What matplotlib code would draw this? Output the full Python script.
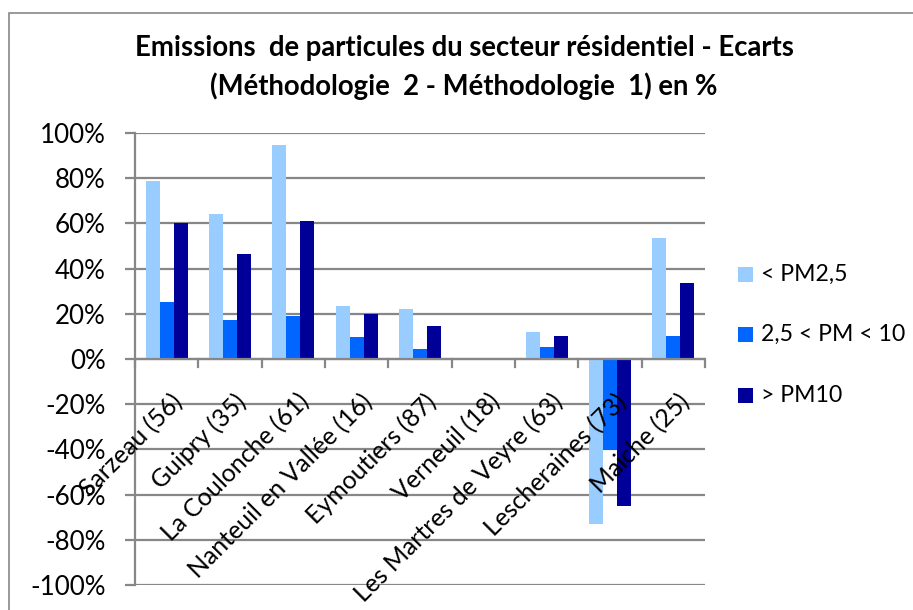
import matplotlib
matplotlib.use("Agg")
import matplotlib.pyplot as plt
from matplotlib.patches import Rectangle
import numpy as np

plt.rcParams['font.family'] = ['Lato', 'DejaVu Sans']

categories = ["Sarzeau (56)", "Guipry (35)", "La Coulonche (61)", "Nanteuil en Vallée (16)",
              "Eymoutiers (87)", "Verneuil (18)", "Les Martres de Veyre (63)",
              "Lescheraines (73)", "Maiche (25)"]
series_names = ["< PM2,5", "2,5 < PM < 10", "> PM10"]
pm25 = [78.8, 64.2, 94.6, 23.5, 22.1, 0.0, 12.1, -72.9, 53.4]
pm25_10 = [25.4, 17.1, 19.0, 9.6, 4.4, 0.0, 5.2, -40.4, 10.2]
pm10 = [60.3, 46.3, 60.9, 19.8, 14.6, 0.0, 10.2, -65.0, 33.6]
colors = ["#99CCFF", "#0066FF", "#000099"]
yticks = [-100, -80, -60, -40, -20, 0, 20, 40, 60, 80, 100]
title_lines = ["Emissions  de particules du secteur résidentiel - Ecarts",
               "(Méthodologie  2 - Méthodologie  1) en %"]

W, H = 913, 610
fig = plt.figure(figsize=(W / 100, H / 100), dpi=100)
fig.patch.set_facecolor("white")
renderer = fig.canvas.get_renderer()


def fit(text, target_px, weight="normal", base=20.0):
    t = fig.text(0, 0, text, fontsize=base, fontweight=weight)
    w = t.get_window_extent(renderer).width
    t.remove()
    return base * target_px / w


fs_tick = fit("100%", 66)
fs_cat = fit("Lescheraines (73)", 190)
fs_leg = fit("2,5 < PM < 10", 144)
fs_title = fit(title_lines[0], 662, "bold")

grid_c = "#878787"
# chart border
fig.add_artist(Rectangle((9 / W, -0.1), 1.2, 1 - 13 / H + 0.1, transform=fig.transFigure,
                         fill=False, edgecolor=grid_c, linewidth=1.2))

ax = fig.add_axes([135 / W, 1 - 585 / H, (705 - 135) / W, (585 - 133) / H])
x = np.arange(len(categories))
bw = 0.222
for k, (vals, c, name) in enumerate(zip([pm25, pm25_10, pm10], colors, series_names)):
    ax.bar(x + (k - 1) * bw, vals, width=bw, color=c, label=name, zorder=3)

ax.set_xlim(-0.5, len(categories) - 0.5)
ax.set_ylim(-100, 100)
ax.set_yticks(yticks)
ax.set_yticklabels([f"{v}%" for v in yticks], fontsize=fs_tick)
ax.yaxis.grid(True, color=grid_c, linewidth=1.6, zorder=0)
for s in ["top", "right", "bottom"]:
    ax.spines[s].set_visible(False)
ax.spines["left"].set_color(grid_c)
ax.spines["left"].set_linewidth(1.6)
ax.tick_params(axis="y", direction="out", length=7.2, width=1.6, color=grid_c, pad=14)

# horizontal axis at zero
ax.set_xticks([])
ax.axhline(0, color=grid_c, linewidth=1.6, zorder=4)
for b in np.arange(-0.5, len(categories), 1.0):
    ax.plot([b, b], [0, -3.6], color=grid_c, linewidth=1.6, zorder=4, clip_on=False)
for i, cat in enumerate(categories):
    ax.annotate(cat, xy=(i, 0), xytext=(3.0, -22.0), textcoords="offset points",
                rotation=45, rotation_mode="anchor", ha="right", va="top",
                fontsize=fs_cat, zorder=5)

# title
fig.text(464 / W, 1 - 48 / H, title_lines[0], fontsize=fs_title, fontweight="bold",
         ha="center", va="center")
fig.text(464 / W, 1 - 86 / H, title_lines[1], fontsize=fs_title, fontweight="bold",
         ha="center", va="center")

# legend
leg_y = [274, 334, 395]
for name, c, yy in zip(series_names, colors, leg_y):
    fig.add_artist(Rectangle((738 / W, 1 - (yy + 7.5) / H), 15 / W, 15 / H,
                             transform=fig.transFigure, facecolor=c, edgecolor="none"))
    fig.text(761 / W, 1 - yy / H, name, fontsize=fs_leg, ha="left", va="center")

fig.savefig("out.png", dpi=100)
